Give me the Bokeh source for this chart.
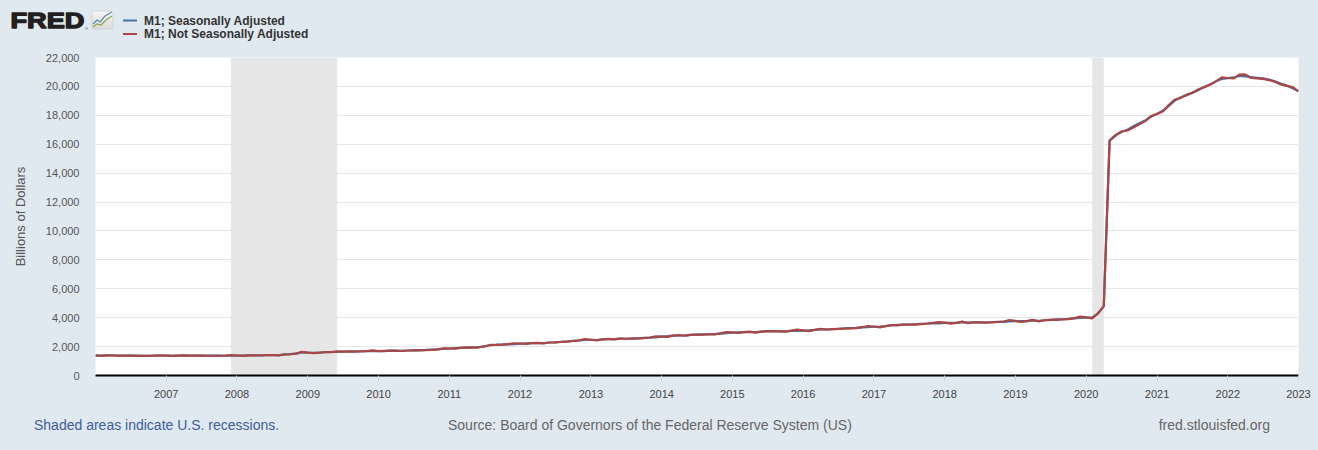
import pandas as pd
from bokeh.plotting import figure
from bokeh.layouts import column
from bokeh.models import (Range1d, FixedTicker, Div, DatetimeTickFormatter,
                          NumeralTickFormatter)
from bokeh.embed import file_html
from bokeh.resources import INLINE

# ---------------- data ----------------
dates = pd.date_range("2006-01-01", "2023-01-01", freq="MS")

m1_sa = [
    1380, 1381, 1387, 1383, 1380, 1378, 1371, 1372, 1366, 1368, 1369, 1367,   # 2006
    1371, 1370, 1370, 1377, 1383, 1372, 1372, 1375, 1373, 1372, 1368, 1375,   # 2007
    1378, 1380, 1389, 1388, 1397, 1404, 1418, 1398, 1460, 1475, 1508, 1603,   # 2008
    1580, 1571, 1576, 1609, 1627, 1651, 1654, 1667, 1666, 1677, 1685, 1695,   # 2009
    1684, 1709, 1717, 1700, 1712, 1730, 1734, 1750, 1766, 1788, 1803, 1833,   # 2010
    1861, 1892, 1911, 1932, 1946, 1952, 2010, 2122, 2131, 2144, 2160, 2164,   # 2011
    2204, 2220, 2237, 2238, 2240, 2282, 2289, 2335, 2357, 2398, 2422, 2461,   # 2012
    2462, 2457, 2494, 2508, 2521, 2547, 2544, 2563, 2575, 2604, 2617, 2643,   # 2013
    2683, 2718, 2761, 2766, 2780, 2808, 2826, 2844, 2854, 2862, 2900, 2933,   # 2014
    2962, 2985, 2995, 3011, 3001, 3040, 3069, 3080, 3063, 3050, 3085, 3093,   # 2015
    3106, 3118, 3153, 3192, 3198, 3204, 3227, 3263, 3283, 3297, 3324, 3340,   # 2016
    3373, 3383, 3415, 3459, 3498, 3519, 3528, 3550, 3578, 3599, 3619, 3607,   # 2017
    3638, 3639, 3643, 3686, 3657, 3682, 3680, 3674, 3688, 3719, 3716, 3747,   # 2018
    3757, 3759, 3759, 3806, 3781, 3824, 3854, 3877, 3893, 3918, 3950, 3978,   # 2019
    4003, 4010, 4260, 4780, 16240, 16600, 16840, 17000, 17240, 17450, 17650, 17900,  # 2020
    18100, 18330, 18640, 19000, 19230, 19370, 19540, 19740, 19950, 20130, 20350, 20520,  # 2021
    20570, 20620, 20720, 20690, 20640, 20600, 20560, 20480, 20360, 20200, 20070, 19880,  # 2022
    19660,                                                                      # 2023
]

m1_nsa = [
    1387, 1361, 1387, 1397, 1366, 1378, 1371, 1362, 1359, 1361, 1376, 1402,   # 2006
    1378, 1350, 1370, 1391, 1369, 1372, 1372, 1365, 1366, 1365, 1375, 1410,   # 2007
    1385, 1360, 1389, 1402, 1383, 1404, 1418, 1388, 1453, 1468, 1516, 1643,   # 2008
    1588, 1548, 1576, 1625, 1611, 1651, 1654, 1655, 1658, 1669, 1693, 1737,   # 2009
    1692, 1683, 1717, 1717, 1695, 1730, 1734, 1738, 1757, 1779, 1812, 1879,   # 2010
    1870, 1864, 1911, 1951, 1927, 1952, 2010, 2107, 2120, 2133, 2171, 2218,   # 2011
    2215, 2187, 2237, 2260, 2218, 2282, 2289, 2319, 2345, 2386, 2434, 2523,   # 2012
    2474, 2420, 2494, 2533, 2496, 2547, 2544, 2545, 2562, 2591, 2630, 2709,   # 2013
    2696, 2677, 2761, 2794, 2752, 2808, 2826, 2824, 2840, 2848, 2915, 3006,   # 2014
    2977, 2940, 2995, 3041, 2971, 3040, 3069, 3058, 3048, 3035, 3100, 3170,   # 2015
    3122, 3071, 3153, 3224, 3166, 3204, 3227, 3240, 3267, 3281, 3341, 3424,   # 2016
    3390, 3332, 3415, 3494, 3463, 3519, 3528, 3525, 3560, 3581, 3637, 3697,   # 2017
    3656, 3584, 3643, 3723, 3620, 3682, 3680, 3648, 3670, 3700, 3735, 3841,   # 2018
    3776, 3703, 3759, 3844, 3743, 3824, 3854, 3850, 3874, 3898, 3970, 4077,   # 2019
    4020, 3950, 4300, 4800, 16250, 16650, 16880, 16950, 17150, 17380, 17600, 17950,  # 2020
    18100, 18280, 18700, 19080, 19200, 19420, 19560, 19780, 19950, 20110, 20350, 20620,  # 2021
    20580, 20560, 20820, 20830, 20580, 20560, 20520, 20440, 20330, 20140, 20040, 19960,  # 2022
    19650,                                                                      # 2023
]

recession_start = ["2007-12-01", "2020-02-01"]
recession_end = ["2009-06-01", "2020-04-01"]

tick_years = list(range(2007, 2024))
y_ticks = list(range(0, 22001, 2000))
y_min, y_max = 0, 22000

series_names = ["M1; Seasonally Adjusted", "M1; Not Seasonally Adjusted"]
series_colors = ["#4572a7", "#aa4643"]

footer_left = "Shaded areas indicate U.S. recessions."
footer_mid = "Source: Board of Governors of the Federal Reserve System (US)"
footer_right = "fred.stlouisfed.org"

# ---------------- layout constants ----------------
BG = "#e1e9f0"
W = 1318
HEAD_H, FIG_H, FOOT_H = 45, 360, 45
FL, FR, FT, FB = 95, 20, 12, 30  # frame borders inside the figure

# ---------------- header (logo + legend) ----------------
legend_items = []
for i, (name, col) in enumerate(zip(series_names, series_colors)):
    ly = 20.5 + i * 13.5
    legend_items.append(
        f'<line x1="123" x2="137" y1="{ly}" y2="{ly}" stroke="{col}" stroke-width="2"/>'
        f'<text x="144" y="{ly + 4}" font-family="Liberation Sans, Arial" '
        f'font-weight="bold" font-size="12" fill="#333333">{name}</text>'
    )

header_svg = (
    f'<svg xmlns="http://www.w3.org/2000/svg" width="{W}" height="{HEAD_H}" '
    f'style="display:block">'
    '<defs><linearGradient id="ig" x1="0" y1="0" x2="0" y2="1">'
    '<stop offset="0" stop-color="#f7f7f7"/><stop offset="1" stop-color="#d9d9d9"/>'
    '</linearGradient></defs>'
    '<text x="10.5" y="28" font-family="DejaVu Sans" font-weight="bold" font-size="22" '
    'textLength="74" lengthAdjust="spacingAndGlyphs" fill="#231f20" '
    'stroke="#231f20" stroke-width="1.3" stroke-linejoin="round">FRED</text>'
    '<text x="85" y="30" font-family="DejaVu Sans" font-size="4" fill="#231f20">®</text>'
    '<rect x="92" y="11" width="21" height="18" rx="1.5" fill="url(#ig)" stroke="#cfcfcf" stroke-width="0.8"/>'
    '<polyline points="93,24 97,20 100,22 105,16 112,12" fill="none" stroke="#5b86b8" stroke-width="1.2"/>'
    '<polyline points="93,27 97,24 101,25 106,20 112,16" fill="none" stroke="#86aa44" stroke-width="1.2"/>'
    + "".join(legend_items) +
    '</svg>'
)

footer_svg = (
    f'<svg xmlns="http://www.w3.org/2000/svg" width="{W}" height="{FOOT_H}" '
    f'style="display:block">'
    f'<text x="34" y="25" font-family="Liberation Sans, Arial" font-size="14" '
    f'fill="#3c5d9c">{footer_left}</text>'
    f'<text x="448" y="25" font-family="Liberation Sans, Arial" font-size="14" '
    f'fill="#666666">{footer_mid}</text>'
    f'<text x="1270" y="25" text-anchor="end" font-family="Liberation Sans, Arial" '
    f'font-size="14" fill="#666666">{footer_right}</text>'
    '</svg>'
)

div_style = {"background-color": BG, "margin": "0", "padding": "0", "overflow": "hidden"}
header = Div(text=header_svg, width=W, height=HEAD_H, styles=div_style, margin=0)
footer = Div(text=footer_svg, width=W, height=FOOT_H, styles=div_style, margin=0)

# ---------------- figure ----------------
fig = figure(width=W, height=FIG_H, x_axis_type="datetime", output_backend="svg",
             toolbar_location=None,
             x_range=Range1d(dates[0], dates[-1]), y_range=Range1d(y_min, y_max),
             min_border_left=FL, min_border_right=FR, min_border_top=FT,
             min_border_bottom=FB, margin=0)
fig.background_fill_color = "white"
fig.border_fill_color = BG
fig.outline_line_color = None

# recessions
rs = pd.to_datetime(recession_start)
re_ = pd.to_datetime(recession_end)
fig.quad(left=rs, right=re_, bottom=[y_min] * len(rs), top=[y_max] * len(rs),
         fill_color="#e6e6e6", line_color=None)

# series
fig.line(dates, m1_sa, line_color=series_colors[0], line_width=2.2)
fig.line(dates, m1_nsa, line_color=series_colors[1], line_width=2.2)

# grid
fig.xgrid.visible = False
fig.ygrid.ticker = FixedTicker(ticks=y_ticks)
fig.ygrid.grid_line_color = "#e6e6e6"
fig.ygrid.grid_line_width = 1

# x axis
xa = fig.xaxis[0]
xa.ticker = FixedTicker(ticks=[pd.Timestamp(f"{y}-01-01").value // 10**6 for y in tick_years],
                        minor_ticks=[])
xa.formatter = DatetimeTickFormatter(years="%Y", months="%Y", days="%Y", hours="%Y",
                                     minutes="%Y", seconds="%Y", milliseconds="%Y",
                                     microseconds="%Y", context=None)
xa.axis_line_color = "black"
xa.axis_line_width = 2
xa.major_tick_line_color = "#ccd6eb"
xa.major_tick_out = 6
xa.major_tick_in = 0
xa.minor_tick_line_color = None
xa.major_label_standoff = 8
xa.major_label_text_font = "Liberation Sans"
xa.major_label_text_font_size = "11px"
xa.major_label_text_color = "#444444"

# y axis
ya = fig.yaxis[0]
ya.ticker = FixedTicker(ticks=y_ticks, minor_ticks=[])
ya.formatter = NumeralTickFormatter(format="0,0")
ya.axis_line_color = None
ya.major_tick_line_color = None
ya.minor_tick_line_color = None
ya.major_tick_out = 0
ya.major_tick_in = 0
ya.major_label_standoff = 16
ya.major_label_text_font = "Liberation Sans"
ya.major_label_text_font_size = "11px"
ya.major_label_text_color = "#555555"
ya.axis_label = "Billions of Dollars"
ya.axis_label_text_font = "Liberation Sans"
ya.axis_label_text_font_style = "normal"
ya.axis_label_text_font_size = "13px"
ya.axis_label_text_color = "#555555"
ya.axis_label_standoff = 15

p = column(header, fig, footer, spacing=0, margin=0,
           styles={"background-color": BG})

open("out.html", "w").write(file_html(p, INLINE))
